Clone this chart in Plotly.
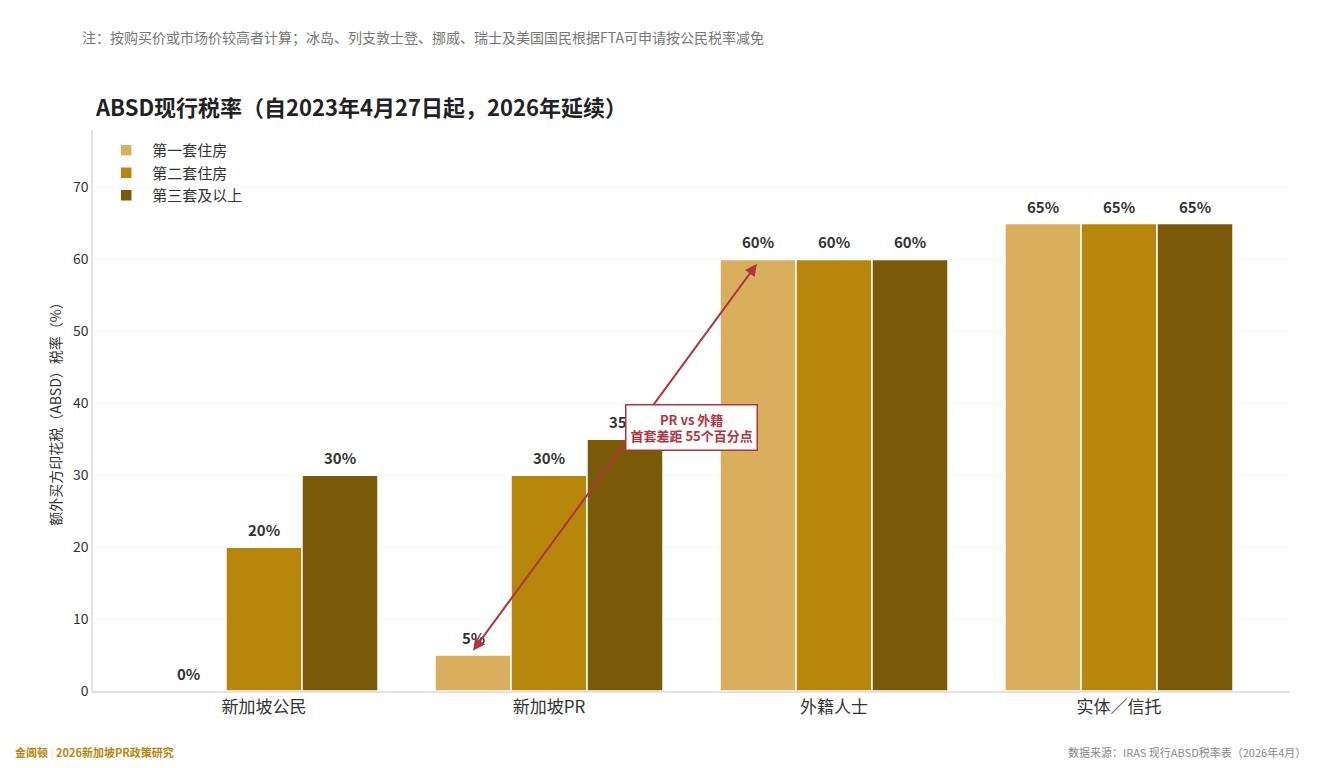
import plotly.graph_objects as go

# 数据
categories = ["新加坡公民", "新加坡PR", "外籍人士", "实体／信托"]
series_names = ["第一套住房", "第二套住房", "第三套及以上"]
first_home = [0, 5, 60, 65]
second_home = [20, 30, 60, 65]
third_home = [30, 35, 60, 65]
colors = ["#D9AF5D", "#B8860B", "#7A5A07"]

FONT = "Noto Sans CJK SC"
RED = "#B0353F"

fig = go.Figure()
all_series = [first_home, second_home, third_home]
for name, vals, col in zip(series_names, all_series, colors):
    fig.add_trace(go.Bar(
        name=name, x=categories, y=vals,
        marker=dict(color=col, line=dict(color="white", width=1.5)),
    ))

# 数值标签
off = 0.8 / 3
for k, vals in enumerate(all_series):
    for i, v in enumerate(vals):
        fig.add_annotation(
            x=i + (k - 1) * off, y=v, xref="x", yref="y", yanchor="bottom", yshift=5,
            text=f"<b>{v}%</b>", showarrow=False,
            font=dict(family=FONT, size=15, color="#333333"),
        )

# 箭头：PR首套 -> 外籍首套
i_pr = categories.index("新加坡PR")
i_fr = categories.index("外籍人士")
fig.add_annotation(
    x=i_pr - off, y=first_home[i_pr] + 0.6,
    ax=i_fr - off, ay=first_home[i_fr] - 0.4,
    xref="x", yref="y", axref="x", ayref="y",
    text="", showarrow=True, arrowside="end+start",
    arrowhead=2, arrowsize=1.2, arrowwidth=2, arrowcolor=RED,
)
fig.add_annotation(
    x=(i_pr + i_fr) / 2, y=36.6, xref="x", yref="y",
    text=f"<b>PR vs 外籍<br>首套差距 {first_home[i_fr] - first_home[i_pr]}个百分点</b>",
    showarrow=False, font=dict(family=FONT, size=13, color=RED),
    bgcolor="white", bordercolor=RED, borderwidth=1.5, borderpad=4,
)

# 标题、注释、页脚
fig.add_annotation(
    x=0, y=1.043, xref="paper", yref="paper", xanchor="left", yanchor="middle",
    text="<b>ABSD现行税率（自2023年4月27日起，2026年延续）</b>", showarrow=False,
    font=dict(family=FONT, size=22, color="#222222"),
)
fig.add_annotation(
    x=-0.011, y=1.166, xref="paper", yref="paper", xanchor="left", yanchor="middle",
    text="注：按购买价或市场价较高者计算；冰岛、列支敦士登、挪威、瑞士及美国国民根据FTA可申请按公民税率减免",
    showarrow=False, font=dict(family=FONT, size=14, color="#777777"),
)
fig.add_annotation(
    x=-0.067, y=-0.109, xref="paper", yref="paper", xanchor="left", yanchor="middle",
    text="<b>金阊顿</b> <span style='color:#dddddd'>|</span> <b>2026新加坡PR政策研究</b>",
    showarrow=False, font=dict(family=FONT, size=11, color="#B8860B"),
)
fig.add_annotation(
    x=1.015, y=-0.109, xref="paper", yref="paper", xanchor="right", yanchor="middle",
    text="数据来源：IRAS 现行ABSD税率表（2026年4月）",
    showarrow=False, font=dict(family=FONT, size=11, color="#888888"),
)

fig.update_layout(
    width=1321, height=760,
    margin=dict(l=85, r=39, t=122, b=77),
    paper_bgcolor="white", plot_bgcolor="white",
    font=dict(family=FONT, color="#333333"),
    barmode="group", bargap=0.2, bargroupgap=0,
    showlegend=True,
    legend=dict(x=0.006, y=0.993, xanchor="left", yanchor="top", itemwidth=42,
                bgcolor="rgba(0,0,0,0)", font=dict(size=15, color="#333333"),
                tracegroupgap=4),
)
fig.update_xaxes(
    range=[-0.6, 3.6], showline=True, linecolor="#e3e3e3", linewidth=1.5,
    ticks="", tickfont=dict(size=17, color="#333333"), showgrid=False,
)
fig.update_yaxes(
    range=[0, 78], dtick=10, showline=True, linecolor="#e3e3e3", linewidth=1.5,
    showgrid=True, gridcolor="#f6f6f6", zeroline=False,
    tickfont=dict(size=14, color="#333333"),
    title=dict(text="额外买方印花税（ABSD）税率（%）", font=dict(size=14, color="#333333"), standoff=8),
)

fig.write_html("out.html")
